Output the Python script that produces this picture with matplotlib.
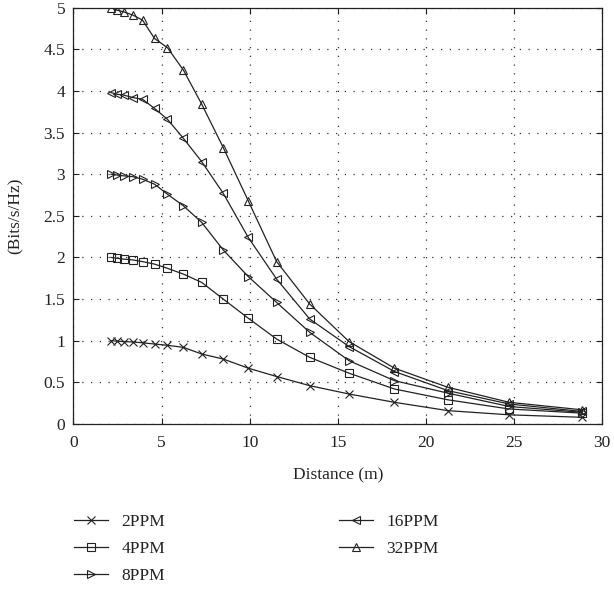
import matplotlib
matplotlib.use("Agg")
import matplotlib.pyplot as plt

distance = [2.13, 2.47, 2.85, 3.38, 3.92, 4.60, 5.33, 6.24, 7.28, 8.50, 9.92,
            11.53, 13.41, 15.64, 18.22, 21.26, 24.73, 28.88]

ppm2 = [1.00, 0.995, 0.99, 0.985, 0.975, 0.96, 0.945, 0.92, 0.84, 0.78, 0.67,
        0.57, 0.46, 0.36, 0.26, 0.16, 0.11, 0.08]
ppm4 = [2.00, 1.99, 1.98, 1.97, 1.95, 1.92, 1.87, 1.80, 1.70, 1.50, 1.27,
        1.02, 0.80, 0.61, 0.42, 0.29, 0.18, 0.13]
ppm8 = [3.00, 2.99, 2.98, 2.97, 2.94, 2.88, 2.76, 2.62, 2.42, 2.09, 1.77,
        1.46, 1.10, 0.76, 0.52, 0.37, 0.21, 0.14]
ppm16 = [3.98, 3.96, 3.95, 3.92, 3.90, 3.79, 3.66, 3.43, 3.15, 2.77, 2.24,
         1.74, 1.26, 0.93, 0.63, 0.40, 0.24, 0.15]
ppm32 = [5.00, 4.97, 4.95, 4.91, 4.85, 4.63, 4.52, 4.25, 3.84, 3.32, 2.68,
         1.95, 1.44, 0.99, 0.67, 0.44, 0.26, 0.17]

labels = ["2PPM", "4PPM", "8PPM", "16PPM", "32PPM"]
markers = ["x", "s", ">", "<", "^"]
series = [ppm2, ppm4, ppm8, ppm16, ppm32]

xticks = [0, 5, 10, 15, 20, 25, 30]
yticks = [0, 0.5, 1, 1.5, 2, 2.5, 3, 3.5, 4, 4.5, 5]
ytick_labels = ["0", "0.5", "1", "1.5", "2", "2.5", "3", "3.5", "4", "4.5", "5"]

plt.rcParams['font.family'] = ['Liberation Serif', 'DejaVu Serif']
plt.rcParams['font.size'] = 12.5

fig = plt.figure(figsize=(6.14, 5.90), dpi=100)
ax = fig.add_axes([0.1197, 0.2814, 0.8608, 0.7056])

for y, lab, m in zip(series, labels, markers):
    ax.plot(distance, y, color='#222222', linewidth=0.9, marker=m,
            markersize=6 if m != 'x' else 5.5, markerfacecolor='none',
            markeredgecolor='#222222', markeredgewidth=0.8, label=lab)

ax.set_xlim(0, 30)
ax.set_ylim(0, 5)
ax.set_xticks(xticks)
ax.set_yticks(yticks)
ax.set_yticklabels(ytick_labels)
ax.tick_params(axis='x', pad=8)
ax.tick_params(axis='y', pad=6)
ax.tick_params(direction='in', top=True, right=True, length=4, width=0.8,
               colors='#222222', labelcolor='#222222')
ax.grid(True, color='#333333', linestyle=(0, (1, 6)), linewidth=0.9)
for s in ax.spines.values():
    s.set_linewidth(0.9)
    s.set_color('#222222')

ax.set_xlabel("Distance (m)", color='#222222', labelpad=12)
ax.set_ylabel("(Bits/s/Hz)", color='#222222', labelpad=14)

fig.legend(loc='upper left', bbox_to_anchor=(0.121, 0.129), ncol=2,
           frameon=False, handlelength=1.95, handletextpad=0.75,
           columnspacing=10.05, labelspacing=0.63, numpoints=1,
           borderaxespad=0, borderpad=0, labelcolor='#222222')

fig.savefig("out.png", dpi=100)
